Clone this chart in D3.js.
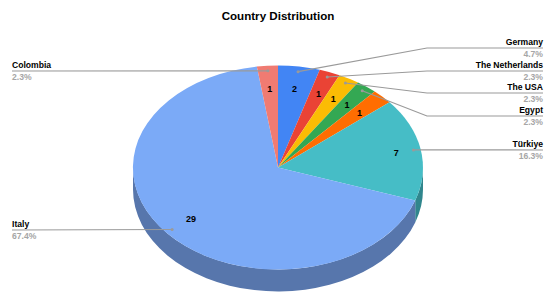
<!DOCTYPE html>
<html>
<head>
<meta charset="UTF-8">
<script src="https://d3js.org/d3.v7.min.js"></script>
<style>
  body { margin: 0; background: #fff; }
  text { font-family: "Liberation Sans", Arial, sans-serif; }
</style>
</head>
<body>
<div id="my_dataviz"></div>
<script>

// chart data, clockwise from 12 o'clock
// the orange slice has no label in the original, so its name is unknown
const countries = ["Germany", "The Netherlands", "The USA", "Egypt", "", "Türkiye", "Italy", "Colombia"];
const counts = [2, 1, 1, 1, 1, 7, 29, 1];
const topColors = ["#4285f4", "#ea4335", "#fbbc04", "#34a853", "#ff6d01", "#46bdc6", "#7baaf7", "#f07b72"];
const sideColors = ["#2f5fae", "#a52f26", "#b08503", "#247638", "#b34d01", "#30868d", "#5776ac", "#a85650"];

const width = 550, height = 300;
const cx = 278, cy = 167.5, rx = 145, ry = 102, depth = 22;

const svg = d3.select("#my_dataviz").append("svg")
  .attr("width", width)
  .attr("height", height)
  .style("display", "block");

svg.append("text")
  .attr("x", cx)
  .attr("y", 19.5)
  .attr("text-anchor", "middle")
  .attr("font-size", 11.6)
  .attr("font-weight", "bold")
  .attr("fill", "#000")
  .text("Country Distribution");

const total = d3.sum(counts);
const pct = d3.format(".1%");

const slices = d3.pie().sort(null)(counts);

// point on the flattened pie, f = fraction of the radius
function pt(angle, f) {
  return [cx + rx * f * Math.sin(angle), cy - ry * f * Math.cos(angle)];
}

// side wall first, only the front half of the rim shows
slices.forEach(function(s, i) {
  const a0 = Math.max(s.startAngle, Math.PI / 2);
  const a1 = Math.min(s.endAngle, Math.PI * 1.5);
  if (a1 <= a0) return;
  const p0 = pt(a0, 1), p1 = pt(a1, 1);
  svg.append("path")
    .attr("fill", sideColors[i])
    .attr("d", "M" + p0 + "A" + rx + "," + ry + " 0 0 1 " + p1 +
      "L" + p1[0] + "," + (p1[1] + depth) +
      "A" + rx + "," + ry + " 0 0 0 " + p0[0] + "," + (p0[1] + depth) + "Z");
});

// top face: unit arcs squashed into an ellipse
const arc = d3.arc().innerRadius(0).outerRadius(1);
svg.append("g")
  .attr("transform", "translate(" + cx + "," + cy + ") scale(" + rx + "," + ry + ")")
  .selectAll("path")
  .data(slices)
  .enter()
  .append("path")
    .attr("d", arc)
    .attr("fill", function(d, i) { return topColors[i]; });

// slice values, the 7 sits a bit further out than the rest
function valuePos(d) {
  return pt((d.startAngle + d.endAngle) / 2, d.value == 7 ? 0.83 : 0.78);
}
svg.selectAll(".value")
  .data(slices)
  .enter()
  .append("text")
    .attr("class", "value")
    .attr("x", function(d) { return valuePos(d)[0]; })
    .attr("y", function(d) { return valuePos(d)[1] + 3.5; })
    .attr("text-anchor", "middle")
    .attr("font-size", 9)
    .attr("font-weight", "bold")
    .attr("fill", "#000")
    .text(function(d) { return d.value; });

// leader lines and labels: line height and side per labelled country
const leaders = {
  "Germany": { y: 48, right: true, elbow: 427 },
  "The Netherlands": { y: 71, right: true, elbow: 427 },
  "The USA": { y: 93, right: true, elbow: 427 },
  "Egypt": { y: 116, right: true, elbow: 427 },
  "Türkiye": { y: 150, right: true },
  "Italy": { y: 230, right: false },
  "Colombia": { y: 71, right: false }
};
const leftX = 12, rightX = 543;

slices.forEach(function(s, i) {
  const l = leaders[countries[i]];
  if (!l) return;
  const p = pt((s.startAngle + s.endAngle) / 2, 0.95);
  const endX = l.right ? rightX : leftX;
  const pts = l.elbow ? [p, [l.elbow, l.y], [endX, l.y]] : [p, [endX, l.y]];

  svg.append("path")
    .attr("d", d3.line()(pts))
    .attr("fill", "none")
    .attr("stroke", "#9a9a9a")
    .attr("stroke-width", 1.2);
  svg.append("circle")
    .attr("cx", p[0])
    .attr("cy", p[1])
    .attr("r", 1.5)
    .attr("fill", "#9a9a9a");

  const anchor = l.right ? "end" : "start";
  svg.append("text")
    .attr("x", endX)
    .attr("y", l.y - 3)
    .attr("text-anchor", anchor)
    .attr("font-size", 8.6)
    .attr("font-weight", "bold")
    .attr("fill", "#000")
    .text(countries[i]);
  svg.append("text")
    .attr("x", endX)
    .attr("y", l.y + 9)
    .attr("text-anchor", anchor)
    .attr("font-size", 8.6)
    .attr("font-weight", "bold")
    .attr("fill", "#a6a6a6")
    .text(pct(s.value / total));
});

</script>
</body>
</html>
